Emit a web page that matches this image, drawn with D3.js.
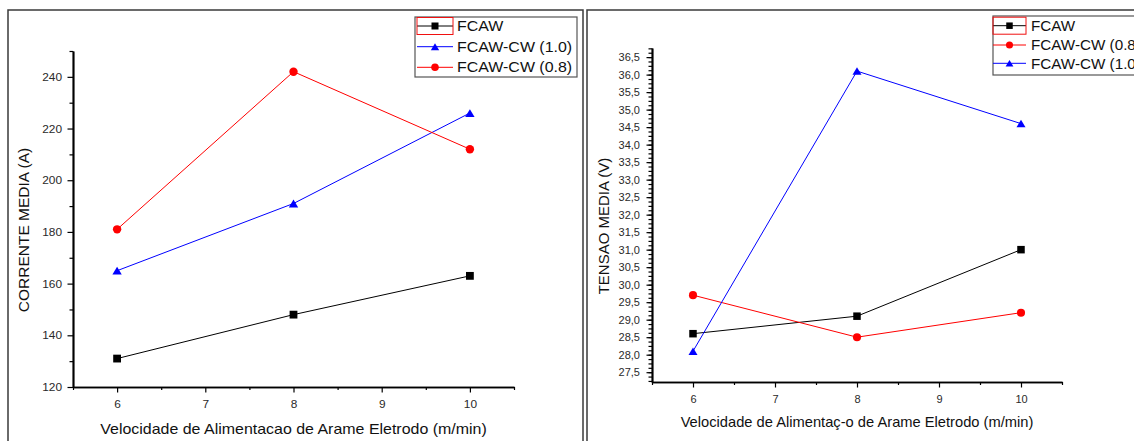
<!DOCTYPE html>
<html><head><meta charset="utf-8">
<script src="https://cdn.jsdelivr.net/npm/d3@7"></script>
<style>
body{margin:0;background:#fff;}
svg{display:block;font-family:"Liberation Sans",Arial,sans-serif;}
</style></head><body>
<svg id="c" width="1134" height="441"></svg>
<script>
// ---- data ----
const xValues = [6, 8, 10];
const xTicks = [6, 7, 8, 9, 10];
const xMinorTicks = [5.5, 6.5, 7.5, 8.5, 9.5, 10.5];

// left panel: CORRENTE MEDIA (A)
const correnteFCAW = [131, 148, 163];
const correnteCW10 = [165, 191, 226];
const correnteCW08 = [181, 242, 212];
const correnteTicks = [120, 140, 160, 180, 200, 220, 240];
const correnteMinorTicks = [130, 150, 170, 190, 210, 230, 250];

// right panel: TENSAO MEDIA (V)
const tensaoFCAW = [28.6, 29.1, 31.0];
const tensaoCW08 = [29.7, 28.5, 29.2];
const tensaoCW10 = [28.1, 36.1, 34.6];
const tensaoTicks = [27.5, 28.0, 28.5, 29.0, 29.5, 30.0, 30.5, 31.0, 31.5, 32.0, 32.5, 33.0, 33.5, 34.0, 34.5, 35.0, 35.5, 36.0, 36.5];

const svg = d3.select("#c");

// panel frames
svg.append("rect").attr("x", 8).attr("y", 10).attr("width", 575).attr("height", 520)
  .attr("fill", "none").attr("stroke", "#3a3a3a").attr("stroke-width", 1.5);
svg.append("rect").attr("x", 587).attr("y", 10).attr("width", 600).attr("height", 520)
  .attr("fill", "none").attr("stroke", "#3a3a3a").attr("stroke-width", 1.5);

function marker(g, shape, cx, cy, color, s) {
  if (shape === "square") {
    g.append("rect").attr("x", cx - s / 2).attr("y", cy - s / 2).attr("width", s).attr("height", s).attr("fill", color);
  } else if (shape === "circle") {
    g.append("circle").attr("cx", cx).attr("cy", cy).attr("r", s / 2 + 0.3).attr("fill", color);
  } else {
    const w = s * 1.2, h = s;
    g.append("path").attr("d", `M${cx - w / 2},${cy + h / 2}L${cx + w / 2},${cy + h / 2}L${cx},${cy - h / 2}Z`).attr("fill", color);
  }
}

function stretchText(sel, sx) {
  sel.each(function () {
    const t = d3.select(this);
    const x = +(t.attr("x") || 0);
    t.attr("x", x / sx).attr("transform", `scale(${sx},1)`);
  });
}

function drawPanel(p) {
  const x = d3.scaleLinear().domain([5.5, 10.5]).range(p.xRange);
  const y = d3.scaleLinear().domain(p.yDomain).range(p.yRange);
  const g = svg.append("g");
  const axisY = p.yRange[0], axisX = p.xRange[0];

  // x axis
  g.append("g").attr("transform", `translate(0,${axisY})`)
    .call(d3.axisBottom(x).tickValues(xMinorTicks).tickSize(3).tickSizeOuter(0).tickFormat(""));
  const xa = g.append("g").attr("transform", `translate(0,${axisY})`)
    .call(d3.axisBottom(x).tickValues(xTicks).tickSize(5.5).tickSizeOuter(0).tickPadding(7.5).tickFormat(d3.format("d")));
  // y axis
  g.append("g").attr("transform", `translate(${axisX},0)`)
    .call(d3.axisLeft(y).tickValues(p.yMinor).tickSize(3.5).tickSizeOuter(0).tickFormat(""));
  const ya = g.append("g").attr("transform", `translate(${axisX},0)`)
    .call(d3.axisLeft(y).tickValues(p.yMajor).tickSize(5.5).tickSizeOuter(0).tickPadding(p.yPad).tickFormat(p.fmt));

  g.selectAll(".domain").attr("stroke", "#000").attr("stroke-width", 1.7);
  g.selectAll(".tick line").attr("stroke", "#000").attr("stroke-width", 1.2);
  g.selectAll(".tick text").attr("font-size", 11).attr("fill", "#2a2a2a")
    .attr("font-family", '"Liberation Sans",Arial,sans-serif');
  stretchText(xa.selectAll(".tick text"), p.sx);
  stretchText(ya.selectAll(".tick text"), p.sx);

  // series lines + markers
  const line = d3.line().x((d, i) => x(xValues[i])).y(d => y(d));
  p.series.forEach(s => {
    g.append("path").attr("d", line(s.values)).attr("fill", "none")
      .attr("stroke", s.color).attr("stroke-width", 1);
  });
  p.series.forEach(s => {
    s.values.forEach((v, i) => marker(g, s.shape, x(xValues[i]), y(v), s.color, p.ms));
  });

  // axis titles
  const xt = g.append("text").attr("x", p.xTitleX).attr("y", p.xTitleY)
    .attr("text-anchor", "middle").attr("font-size", 14).attr("fill", "#111").text(p.xTitle);
  stretchText(xt, p.xTitleSx);
  g.append("text").attr("transform", `translate(${p.yTitleX},${p.yTitleY}) rotate(-90)`)
    .attr("text-anchor", "middle").attr("font-size", p.yTitleSize).attr("fill", "#111").text(p.yTitle);

  // legend
  const L = p.legend;
  const lg = g.append("g");
  lg.append("rect").attr("x", L.x).attr("y", L.y).attr("width", L.w).attr("height", L.h)
    .attr("fill", "#fff").attr("stroke", "#555").attr("stroke-width", 1.2);
  L.order.forEach((idx, k) => {
    const s = p.series[idx];
    const ry = L.rows[k];
    lg.append("line").attr("x1", L.sx0).attr("x2", L.sx1).attr("y1", ry).attr("y2", ry)
      .attr("stroke", s.color).attr("stroke-width", 1);
    marker(lg, s.shape, (L.sx0 + L.sx1) / 2, ry, s.color, L.ms);
    const t = lg.append("text").attr("x", L.tx).attr("y", ry).attr("dy", "0.36em")
      .attr("font-size", L.fs).attr("fill", "#111").text(s.name);
    stretchText(t, L.tsx);
  });
  lg.append("rect").attr("x", L.sx0).attr("y", L.rows[0] - 8.5).attr("width", L.sx1 - L.sx0).attr("height", 17)
    .attr("fill", "none").attr("stroke", "#f01010").attr("stroke-width", 1);
}

drawPanel({
  xRange: [73, 514], yDomain: [120, 250], yRange: [387, 51],
  yMajor: correnteTicks, yMinor: correnteMinorTicks, fmt: d3.format("d"), yPad: 5.5,
  sx: 1.08, ms: 7.8,
  series: [
    { name: "FCAW", values: correnteFCAW, color: "#000000", shape: "square" },
    { name: "FCAW-CW (1.0)", values: correnteCW10, color: "#0000ff", shape: "triangle" },
    { name: "FCAW-CW (0.8)", values: correnteCW08, color: "#ff0000", shape: "circle" }
  ],
  xTitle: "Velocidade de Alimentacao de Arame Eletrodo (m/min)", xTitleX: 293.5, xTitleY: 434, xTitleSx: 1.14,
  yTitle: "CORRENTE MEDIA (A)", yTitleX: 28.5, yTitleY: 230, yTitleSize: 15.5,
  legend: { x: 415, y: 17, w: 162, h: 60, rows: [26, 46.7, 67.3], sx0: 417, sx1: 453, tx: 457,
            fs: 14, tsx: 1.14, ms: 7, order: [0, 1, 2] }
});

drawPanel({
  xRange: [652, 1062], yDomain: [27.22, 36.76], yRange: [382, 48],
  yMajor: tensaoTicks, yMinor: d3.range(27.25, 36.8, 0.125), fmt: d => d3.format(".1f")(d).replace(".", ","), yPad: 6.5,
  sx: 1.0, ms: 7.5,
  series: [
    { name: "FCAW", values: tensaoFCAW, color: "#000000", shape: "square" },
    { name: "FCAW-CW (0.8)", values: tensaoCW08, color: "#ff0000", shape: "circle" },
    { name: "FCAW-CW (1.0)", values: tensaoCW10, color: "#0000ff", shape: "triangle" }
  ],
  xTitle: "Velocidade de Alimentaç\u2010o de Arame Eletrodo (m/min)", xTitleX: 857, xTitleY: 427, xTitleSx: 1.05,
  yTitle: "TENSAO MEDIA (V)", yTitleX: 608.5, yTitleY: 226, yTitleSize: 15,
  legend: { x: 993, y: 16, w: 160, h: 59, rows: [25.7, 45, 63.3], sx0: 993, sx1: 1026, tx: 1031,
            fs: 14.5, tsx: 1.05, ms: 6.5, order: [0, 1, 2] }
});
</script>
</body></html>
